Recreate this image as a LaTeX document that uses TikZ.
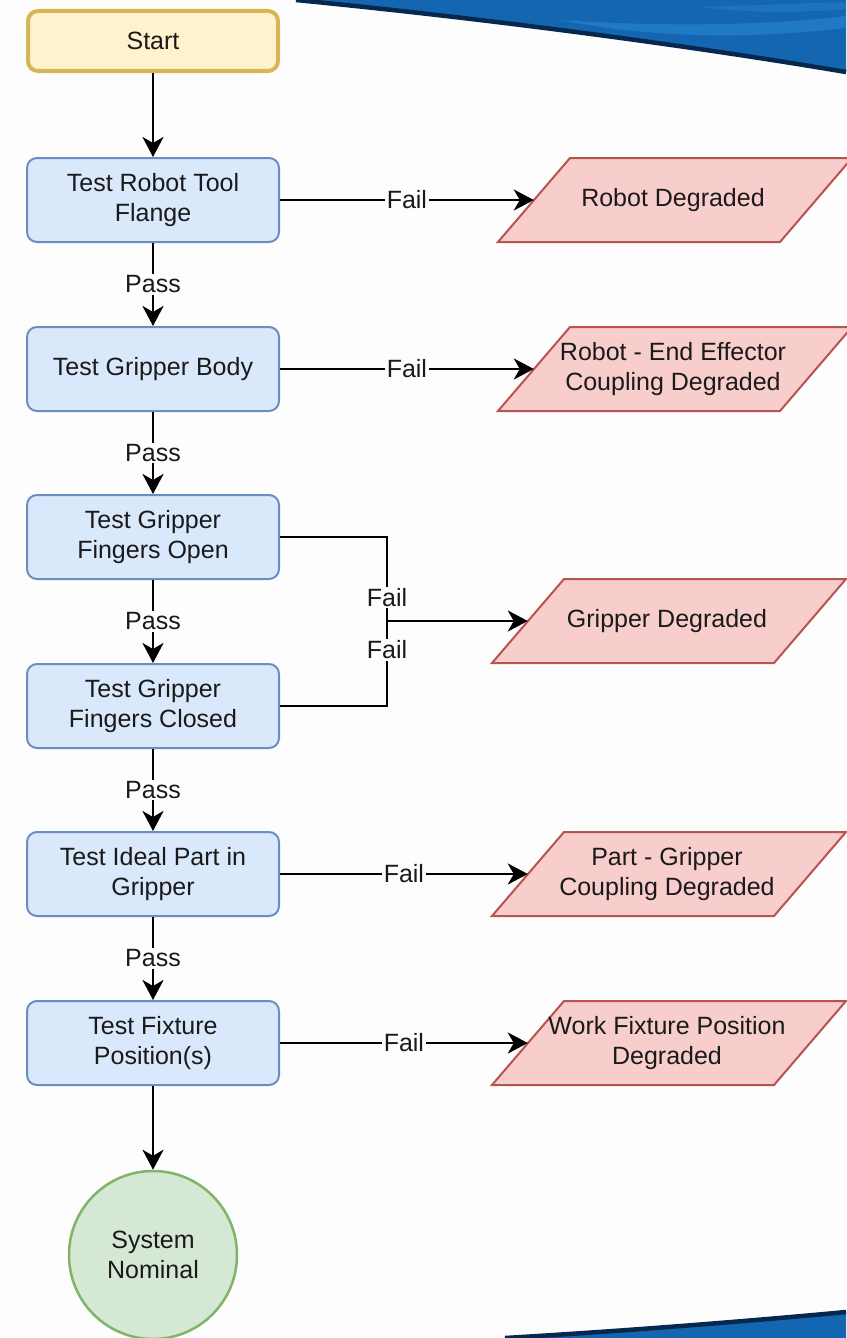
\documentclass[tikz,border=0pt]{standalone}
\usepackage{fontspec}
\setmainfont{Liberation Sans}
\usetikzlibrary{arrows.meta}
\definecolor{startfill}{HTML}{FFF2CC}
\definecolor{startline}{HTML}{D6B656}
\definecolor{testfill}{HTML}{DAE8FC}
\definecolor{testline}{HTML}{6C8EBF}
\definecolor{failfill}{HTML}{F8CECC}
\definecolor{failline}{HTML}{B85450}
\definecolor{okfill}{HTML}{D5E8D4}
\definecolor{okline}{HTML}{82B366}
\definecolor{pagebg}{HTML}{FDFDFD}
\definecolor{swoosh}{HTML}{1466B0}
\definecolor{swooshlight}{HTML}{2A8AD6}
\definecolor{swooshdark}{HTML}{06284F}
\definecolor{inktext}{HTML}{1A1A1A}

% parallelogram output box: filled shape, then a named box holding the text
\newcommand\outbox[4]{%
  \draw[outshape] (#2,#3) ++(-175,42) -- ++(282,0) -- ++(72,-84) -- ++(-282,0) -- cycle;
  \node[outtext] (#1) at (#2,#3) {#4};}

\begin{document}
\begin{tikzpicture}[x=1pt,y=-1pt,
  font=\fontsize{25}{30}\selectfont, text=inktext,
  startbox/.style={draw=startline, fill=startfill, line width=4pt, rounded corners=10pt,
    minimum width=250pt, minimum height=60pt, inner sep=0pt},
  testbox/.style={draw=testline, fill=testfill, line width=2pt, rounded corners=10pt,
    minimum width=252pt, minimum height=84pt, inner sep=0pt, align=center},
  outshape/.style={draw=failline, fill=failfill, line width=2pt},
  outtext/.style={minimum width=278pt, minimum height=84pt, inner sep=0pt, align=center},
  endcircle/.style={circle, draw=okline, fill=okfill, line width=2.5pt,
    minimum size=168pt, inner sep=0pt, align=center},
  flow/.style={line width=2.8pt, -{Stealth[length=20pt, width=21pt, inset=6pt]}},
  plain/.style={line width=2.8pt},
  lbl/.style={fill=pagebg, inner sep=1.5pt}]

\useasboundingbox (0,0) rectangle (846,1338);
\fill[pagebg] (0,0) rectangle (846,1338);

% top swoosh
\fill[swoosh] (296,0) .. controls (480,18) and (680,44) .. (846,72) -- (846,0) -- cycle;
\fill[swooshlight, opacity=0.55] (560,20) .. controls (680,28) and (780,24) .. (846,16)
  -- (846,28) .. controls (760,38) and (660,40) .. cycle;
\fill[swooshlight, opacity=0.4] (700,7) .. controls (760,5) and (810,3) .. (846,2)
  -- (846,9) .. controls (800,13) and (750,13) .. cycle;
\draw[swooshdark, line width=4.5pt] (296,0) .. controls (480,18) and (680,44) .. (846,72);
% bottom swoosh
\fill[swoosh] (505,1338) .. controls (640,1330) and (760,1320) .. (846,1312) -- (846,1338) -- cycle;
\draw[swooshdark, line width=4.5pt] (505,1338) .. controls (640,1330) and (760,1320) .. (846,1312);

% main column
\node[startbox] (start) at (153,41) {Start};
\node[testbox] (flange) at (153,200) {Test Robot Tool\\Flange};
\node[testbox] (body) at (153,369) {Test Gripper Body};
\node[testbox] (open) at (153,537) {Test Gripper\\Fingers Open};
\node[testbox] (closed) at (153,706) {Test Gripper\\Fingers Closed};
\node[testbox] (part) at (153,874) {Test Ideal Part in\\Gripper};
\node[testbox] (fixture) at (153,1043) {Test Fixture\\Position(s)};
\node[endcircle] (nominal) at (153,1255) {System\\Nominal};

% outcome boxes
\outbox{robotdeg}{673}{200}{Robot Degraded}
\outbox{couplingdeg}{673}{369}{Robot - End Effector\\Coupling Degraded}
\outbox{gripperdeg}{667}{621}{Gripper Degraded}
\outbox{partdeg}{667}{874}{Part - Gripper\\Coupling Degraded}
\outbox{fixturedeg}{667}{1043}{Work Fixture Position\\Degraded}

% pass connectors
\draw[flow] (start) -- (flange);
\draw[flow] (flange) -- node[lbl] {Pass} (body);
\draw[flow] (body) -- node[lbl] {Pass} (open);
\draw[flow] (open) -- node[lbl] {Pass} (closed);
\draw[flow] (closed) -- node[lbl] {Pass} (part);
\draw[flow] (part) -- node[lbl] {Pass} (fixture);
\draw[flow] (fixture) -- (nominal);

% fail connectors
\draw[flow] (flange.east) -- node[lbl] {Fail} (robotdeg.west);
\draw[flow] (body.east) -- node[lbl] {Fail} (couplingdeg.west);
\coordinate (join) at (387,621);
\draw[plain] (open.east) -| node[lbl, pos=0.86] {Fail} (join);
\draw[plain] (closed.east) -| node[lbl, pos=0.83] {Fail} (join);
\draw[flow] (join) -- (gripperdeg.west);
\draw[flow] (part.east) -- node[lbl] {Fail} (partdeg.west);
\draw[flow] (fixture.east) -- node[lbl] {Fail} (fixturedeg.west);
\end{tikzpicture}
\end{document}
